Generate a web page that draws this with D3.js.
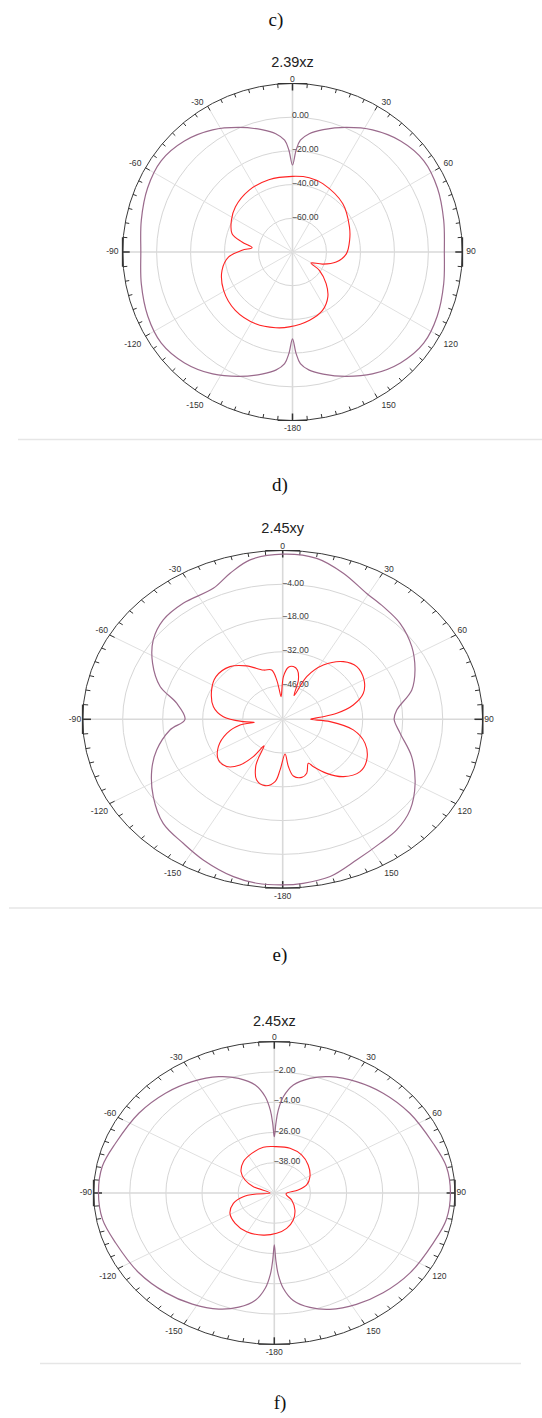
<!DOCTYPE html>
<html>
<head>
<meta charset="utf-8">
<script src="https://cdn.jsdelivr.net/npm/d3@7"></script>
<style>
  body { margin: 0; background: #fff; }
  svg { display: block; }
</style>
</head>
<body>
<svg id="fig" width="542" height="1418"></svg>
<script>
// ---------------- data ----------------
const panelLetters = ["c)", "d)", "e)", "f)"];
const chartTitles = ["2.39xz", "2.45xy", "2.45xz"];

// angular axis (degrees, clockwise from top)
const angleTicks = [0, 30, 60, 90, 120, 150, 180, -150, -120, -90, -60, -30];
const angleTickLabels = ["0", "30", "60", "90", "120", "150", "-180", "-150", "-120", "-90", "-60", "-30"];

// ---- 2.39xz ----
const xz239Range = [-80, 20];
const xz239Rings = [-60, -40, -20, 0];
const xz239CoAngles = [-180, -178, -176, -172, -166, -157, -147, -136, -125, -114, -102, -90,
  -78, -66, -55, -44, -33, -23, -14, -8, -4, -2, 0, 2, 4, 8, 14, 23, 33, 44, 55, 66, 78, 90,
  102, 114, 125, 136, 147, 157, 166, 172, 176, 178];
const xz239CoGain = [-28.5, -19.8, -13.6, -9.2, -5.3, 0.2, 6.3, 11.5, 14.3, 13.3, 11.0, 9.3,
  11.0, 13.4, 14.4, 11.6, 6.4, 0.3, -5.2, -9.1, -13.5, -19.6, -28.4, -19.6, -13.5, -9.1, -5.2, 0.3, 6.4, 11.6, 14.4, 13.4, 11.0, 9.4,
  11.0, 13.3, 14.3, 11.5, 6.3, 0.2, -5.3, -9.2, -13.6, -19.8];
const xz239CrossAngles = [-177.5, -167.6, -153, -135.8, -119.3, -104.7, -94.5, -88, -83.8, -78.7,
  -73, -62.4, -51.5, -35, -18, 0, 12.6, 23.7, 46, 66, 78, 92, 103, 112, 121, 124.5, 133.5, 142, 153, 166];
const xz239CrossGain = [-35.5, -34.0, -32.2, -31.7, -33.5, -37.1, -42.3, -50.3, -56.1, -49.7,
  -42.8, -39.4, -37.0, -35.3, -34.9, -35.1, -34.8, -35.7, -38.8, -43.3, -45.6, -48.3, -53.6, -60.8, -67.3, -60.8, -52.7, -46.2, -41.1, -38.3];

// ---- 2.45xy ----
const xy245Range = [-60, 10];
const xy245Rings = [-46, -32, -18, -4];
const xy245CoAngles = [-172.4, -165.2, -154.5, -145.9, -135.9, -125.3, -114.6, -106.1, -96.4, -90,
  -79.8, -72.4, -63, -54, -45.4, -35.9, -24.1, -16.9, -9.8, 0, 10.1, 19.3, 29.4, 37, 45.9, 56.3,
  66.2, 74.9, 84.5, 90, 98, 108.9, 119.8, 130.1, 139, 146.5, 156, 165.7, 174, 180];
const xy245CoGain = [8.6, 7.5, 4.6, 2.1, 0.1, -4.5, -9.6, -14.1, -20.3, -25.8,
  -22.3, -15.0, -8.9, -4.0, -1.3, -0.6, -0.5, 3.3, 7.1, 8.5, 7.8, 4.2, -0.1, -1.5, -2.8, -5.7,
  -9.4, -13.2, -19.9, -21.0, -18.5, -12.3, -6.6, -1.7, 0.8, 1.7, 3.8, 7.3, 8.4, 8.7];
const xy245CrossAngles = [-177.5, -174.1, -167.3, -160.1, -154.3, -152.2, -149.4, -146.4, -141.7, -135,
  -126.8, -116.7, -106.5, -98.9, -97.2, -94, -87, -77.8, -63.9, -52.8, -40.2, -29.7, -18.3, -10.7,
  -7.3, -5.5, -3.5, 0.8, 5.3, 9.7, 14.1, 18.6, 22, 25.4, 32.3, 41.6, 49.9, 60.2, 69.1, 76.5, 82.5,
  86.4, 90, 93.3, 100.1, 109.1, 119.8, 128.7, 138.2, 145.5, 151.3, 153.8, 159.4, 164.5, 171, 174.2, 176.7];
const xy245CrossGain = [-39.0, -34.0, -31.8, -33.2, -38.2, -41.7, -47.2, -41.4, -35.9, -32.3,
  -31.9, -34.8, -39.6, -44.9, -50.0, -46.2, -39.2, -35.2, -32.3, -30.7, -31.4, -34.5, -38.5, -39.2,
  -43.6, -47.8, -50.6, -42.3, -38.3, -37.8, -38.9, -42.8, -49.4, -40.4, -33.4, -28.0, -26.1, -27.2, -29.8, -34.6, -40.9,
  -46.9, -50.2, -43.4, -34.9, -29.5, -26.1, -25.3, -28.1, -32.8, -37.6, -39.7, -36.1, -35.0, -36.2, -40.3, -45.6];

// ---- 2.45xz ----
const xz245Range = [-50, 10];
const xz245Rings = [-38, -26, -14, -2];
const xz245CoAngles = [-180, -178.9, -177.7, -175.5, -171.6, -165.4, -158.2, -148.3, -137.6, -125.1,
  -110.5, -100.4, -90, -79.6, -69.5, -54.9, -42.4, -31.7, -21.8, -14.6, -8.4, -4.5, -2.3, -1.1, 0,
  1.1, 2.3, 4.5, 8.4, 14.6, 21.8, 31.7, 42.4, 54.9, 69.5, 79.6, 90, 100.4, 110.5, 125.1, 137.6,
  148.3, 158.2, 165.4, 171.6, 175.5, 177.7, 178.9];
const xz245CoGain = [-29.4, -23.5, -17.8, -12.2, -7.0, -3.2, -0.4, 1.8, 3.5, 5.0,
  6.3, 8.0, 8.4, 8.1, 6.3, 5.0, 3.6, 1.9, -0.3, -3.0, -6.7, -11.7, -17.1, -22.4, -27.7,
  -22.4, -17.1, -11.7, -6.7, -3.0, -0.3, 1.9, 3.6, 5.0, 6.3, 8.1, 8.5, 8.1, 6.4, 5.1, 3.6,
  1.9, -0.3, -3.1, -6.9, -12.1, -17.7, -23.3];
const xz245CrossAngles = [-167.6, -149.1, -132.7, -118.8, -106.8, -98, -93.9, -90, -70.1, -62.1,
  -52.6, -39.6, -25.5, -11.4, 0.7, 16.4, 31, 45.4, 61.3, 73.5, 81.5, 95.8, 115.8, 134.5, 149.5, 163.7, 177.2];
const xz245CrossGain = [-32.9, -32.1, -32.3, -33.2, -35.8, -39.6, -44.1, -48.6, -42.6, -39.0,
  -36.1, -33.9, -32.6, -31.5, -31.6, -31.5, -32.4, -34.2, -36.5, -38.8, -42.0, -46.1, -43.6, -40.4, -37.6, -35.4, -34.0];

// ---------------- drawing ----------------
const svg = d3.select("#fig");
const SANS = "'Liberation Sans', Arial, sans-serif";
const SERIF = "'Liberation Serif', 'Times New Roman', serif";
const CO_COLOR = "#9a6a8c";
const CROSS_COLOR = "#ff2222";
const rad = d3.scaleLinear().domain([0, 360]).range([0, 2 * Math.PI]);

const panels = [
  { title: chartTitles[0], range: xz239Range, rings: xz239Rings,
    co: [xz239CoAngles, xz239CoGain], cross: [xz239CrossAngles, xz239CrossGain],
    cx: 292.5, cy: 252, R: 168.5, sx: 1.008, titleY: 66.5, gap: 4 },
  { title: chartTitles[1], range: xy245Range, rings: xy245Rings,
    co: [xy245CoAngles, xy245CoGain], cross: [xy245CrossAngles, xy245CrossGain],
    cx: 282.7, cy: 719.3, R: 168.8, sx: 1.185, titleY: 533, gap: 1.5 },
  { title: chartTitles[2], range: xz245Range, rings: xz245Rings,
    co: [xz245CoAngles, xz245CoGain], cross: [xz245CrossAngles, xz245CrossGain],
    cx: 274.3, cy: 1193, R: 151.3, sx: 1.194, titleY: 1026, gap: 1.5 }
];

function drawPolar(p) {
  const g = svg.append("g");
  const r = d3.scaleLinear().domain(p.range).range([0, p.R]);
  const px = (a, rr) => p.cx + p.sx * rr * Math.sin(rad(a));
  const py = (a, rr) => p.cy - rr * Math.cos(rad(a));

  // grid rings
  g.selectAll("ellipse.ring").data(p.rings).join("ellipse")
    .attr("cx", p.cx).attr("cy", p.cy)
    .attr("rx", d => p.sx * r(d)).attr("ry", d => r(d))
    .attr("fill", "none").attr("stroke", "#d6d6d6").attr("stroke-width", 1);

  // spokes every 30 degrees
  const spokes = d3.range(0, 180, 30);
  g.selectAll("line.spoke").data(spokes).join("line")
    .attr("x1", d => px(d, p.R)).attr("y1", d => py(d, p.R))
    .attr("x2", d => px(d + 180, p.R)).attr("y2", d => py(d + 180, p.R))
    .attr("stroke", d => d % 90 === 0 ? "#d9d9d9" : "#e0e0e0")
    .attr("stroke-width", d => d % 90 === 0 ? 1.6 : 1);

  // outer boundary
  g.append("ellipse")
    .attr("cx", p.cx).attr("cy", p.cy)
    .attr("rx", p.sx * p.R).attr("ry", p.R)
    .attr("fill", "none").attr("stroke", "#3a3a3a").attr("stroke-width", 1);

  // tick marks every 5 degrees, pointing inward
  const ticks = d3.range(0, 360, 5);
  g.selectAll("line.tick").data(ticks).join("line")
    .attr("x1", d => px(d, p.R)).attr("y1", d => py(d, p.R))
    .attr("x2", d => px(d, p.R - (d % 90 === 0 ? 7 : d % 30 === 0 ? 5 : 4)))
    .attr("y2", d => py(d, p.R - (d % 90 === 0 ? 7 : d % 30 === 0 ? 5 : 4)))
    .attr("stroke", "#333").attr("stroke-width", d => d % 90 === 0 ? 1.5 : 1);

  // tangent brackets at the four cardinal directions
  const t = p.R * Math.tan(rad(5));
  [0, 90, 180, 270].forEach(a => {
    const s = Math.sin(rad(a)), c = Math.cos(rad(a));
    const bx = p.R * s, by = -p.R * c;
    const x1 = p.cx + p.sx * (bx - t * c), y1 = p.cy + (by - t * s);
    const x2 = p.cx + p.sx * (bx + t * c), y2 = p.cy + (by + t * s);
    g.append("line").attr("x1", x1).attr("y1", y1).attr("x2", x2).attr("y2", y2)
      .attr("stroke", "#333").attr("stroke-width", a % 180 === 0 ? 1 : 1.6);
  });

  // ring value labels beside the vertical axis
  g.selectAll("text.ringlab").data(p.rings).join("text")
    .attr("x", p.cx - 0.5).attr("y", d => p.cy - r(d) - 1)
    .attr("dominant-baseline", "middle")
    .attr("font-family", SANS).attr("font-size", 8.6).attr("fill", "#3c3c3c")
    .text(d => d3.format(".2f")(d));

  // angle labels
  g.selectAll("text.anglab").data(angleTicks).join("text")
    .each(function (d, i) {
      const s = Math.sin(rad(d)), c = Math.cos(rad(d));
      const ax = px(d, p.R), ay = py(d, p.R);
      const sel = d3.select(this);
      let anchor = "middle", base = "alphabetic", dx = 0, dy = 0;
      if (s > 0.01) { anchor = "start"; dx = p.gap; }
      else if (s < -0.01) { anchor = "end"; dx = -p.gap; }
      if (c > 0.01) { base = "alphabetic"; dy = -1.5; }
      else if (c < -0.01) { base = "hanging"; dy = 4; }
      else { base = "middle"; dy = 0; }
      sel.attr("x", ax + dx).attr("y", ay + dy)
        .attr("text-anchor", anchor).attr("dominant-baseline", base)
        .text(angleTickLabels[i]);
    })
    .attr("font-family", SANS).attr("font-size", 8.6).attr("fill", "#333");

  // pattern traces
  const line = d3.line()
    .x(d => px(d[0], r(d[1])))
    .y(d => py(d[0], r(d[1])))
    .curve(d3.curveCatmullRomClosed.alpha(0.5));
  const series = [
    { ang: p.co[0], val: p.co[1], color: CO_COLOR, w: 1.2 },
    { ang: p.cross[0], val: p.cross[1], color: CROSS_COLOR, w: 1.1 }
  ];
  g.selectAll("path.trace").data(series).join("path")
    .attr("d", s => line(s.ang.map((a, i) => [a, s.val[i]])))
    .attr("fill", "none").attr("stroke", s => s.color).attr("stroke-width", s => s.w)
    .attr("stroke-linejoin", "round");

  // title
  g.append("text").attr("x", p.cx).attr("y", p.titleY)
    .attr("text-anchor", "middle").attr("font-family", SANS)
    .attr("font-size", 14.5).attr("fill", "#222").text(p.title);
}

panels.forEach(drawPolar);

// separators under each chart
const separators = [
  { x1: 18, x2: 542, y: 439.5 },
  { x1: 9, x2: 542, y: 908 },
  { x1: 40, x2: 521, y: 1363.5 }
];
svg.selectAll("line.sep").data(separators).join("line")
  .attr("x1", d => d.x1).attr("x2", d => d.x2)
  .attr("y1", d => d.y).attr("y2", d => d.y)
  .attr("stroke", "#e6e6e6").attr("stroke-width", 1.5);

// sub-figure letters
const letterPos = [[276, 26], [280, 491], [280, 961], [280, 1409]];
svg.selectAll("text.letter").data(panelLetters).join("text")
  .attr("x", (d, i) => letterPos[i][0]).attr("y", (d, i) => letterPos[i][1])
  .attr("text-anchor", "middle").attr("font-family", SERIF)
  .attr("font-size", 19).attr("fill", "#111").text(d => d);
</script>
</body>
</html>
